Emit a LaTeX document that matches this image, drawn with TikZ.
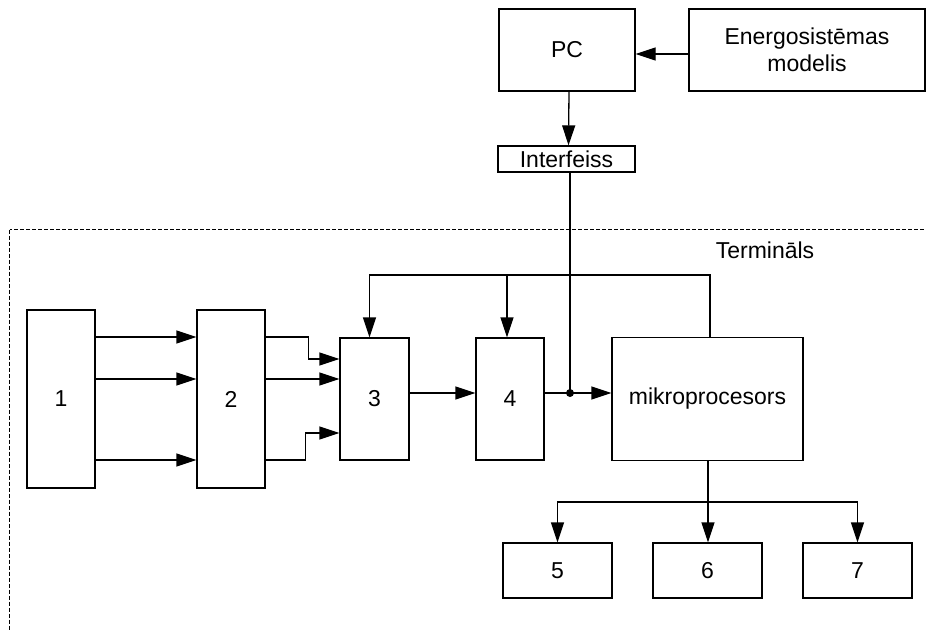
\documentclass[tikz,border=0pt]{standalone}
\usepackage{fontspec}
\setmainfont{Liberation Sans}
\usepackage{tikz}
\usetikzlibrary{arrows.meta,positioning,calc}
\tikzset{
  blockbox/.style={
    draw=black,
    line width=0.65pt,
    inner sep=0pt,
    align=center,
    font=\fontsize{11.5}{13.5}\selectfont
  },
  flowarrow/.style={-{Triangle[length=10pt,width=6.5pt]},line width=0.65pt},
  plainline/.style={line width=0.65pt},
  framebox/.style={draw=black,line width=0.5pt,dash pattern=on 2pt off 1pt}
}

\begin{document}
\begin{tikzpicture}[x=0.5pt,y=-0.5pt]
  \useasboundingbox (0,0) rectangle (926,629);
  % terminal frame
  \draw[framebox] (9.5,229.5) rectangle (960,660);
  \node[font=\fontsize{11.5}{13.5}\selectfont] (term) at (765,250) {Termināls};
  % top blocks
  \node[blockbox, minimum width=68pt, minimum height=41pt] (pc) at (567,50) {PC};
  \node[blockbox, minimum width=118pt, minimum height=41pt] (model) at (807,50) {Energosistēmas\\modelis};
  \node[blockbox, minimum width=68.5pt, minimum height=13pt] (iface) at (566.5,159) {Interfeiss};
  % terminal blocks
  \node[blockbox, minimum width=34pt, minimum height=89pt] (b1) at (61,399) {1};
  \node[blockbox, minimum width=34pt, minimum height=89pt] (b2) at (231,399) {2};
  \node[blockbox, minimum width=34.5pt, minimum height=61pt] (b3) at (374.5,399) {3};
  \node[blockbox, minimum width=34pt, minimum height=61pt] (b4) at (510,399) {4};
  \node[blockbox, minimum width=95.5pt, minimum height=61.5pt] (mcu) at (707.5,399) {mikroprocesors};
  \node[blockbox, minimum width=54.5pt, minimum height=27.5pt] (b5) at (557.5,570.5) {5};
  \node[blockbox, minimum width=54.5pt, minimum height=27.5pt] (b6) at (707.5,570.5) {6};
  \node[blockbox, minimum width=54.5pt, minimum height=27.5pt] (b7) at (857.5,570.5) {7};
  \coordinate (tap) at (570,393);
  \coordinate (fb) at (710,275);
  \coordinate (split) at (708,502);
  % connectors
  \draw[flowarrow] ([yshift=-2pt]model.west) -- ([yshift=-2pt]model.west -| pc.east);
  \draw[flowarrow] ([xshift=1pt]pc.south) -- ([xshift=1pt]iface.north);
  \draw[plainline] (iface.south -| tap) -- (tap);
  \draw[flowarrow] ([yshift=31pt]b1.east) -- ([yshift=31pt]b2.west);
  \draw[flowarrow] ([yshift=10pt]b1.east) -- ([yshift=10pt]b2.west);
  \draw[flowarrow] ([yshift=-30.5pt]b1.east) -- ([yshift=-30.5pt]b2.west);
  \draw[flowarrow] ([yshift=31pt]b2.east) -- ++(21.5pt,0) |- ([yshift=20pt]b3.west);
  \draw[flowarrow] ([yshift=10pt]b2.east) -- ([yshift=10pt]b3.west);
  \draw[flowarrow] ([yshift=-30.5pt]b2.east) -- ++(20pt,0) |- ([yshift=-17pt]b3.west);
  \draw[flowarrow] (b3.east |- tap) -- (b4.west |- tap);
  \draw[flowarrow] (b4.east |- tap) -- (mcu.west |- tap);
  \fill (tap) circle (2pt);
  \draw[flowarrow] (mcu.north -| fb) -- (fb) -| ([xshift=-2.5pt]b3.north);
  \draw[flowarrow] ([xshift=-1.5pt]b4.north |- fb) -- ([xshift=-1.5pt]b4.north);
  \draw[plainline] (mcu.south -| split) -- (split);
  \draw[flowarrow] (split) -- (b6.north -| split);
  \draw[flowarrow] (split) -| (b5.north);
  \draw[flowarrow] (split) -| (b7.north);
\end{tikzpicture}
\end{document}
